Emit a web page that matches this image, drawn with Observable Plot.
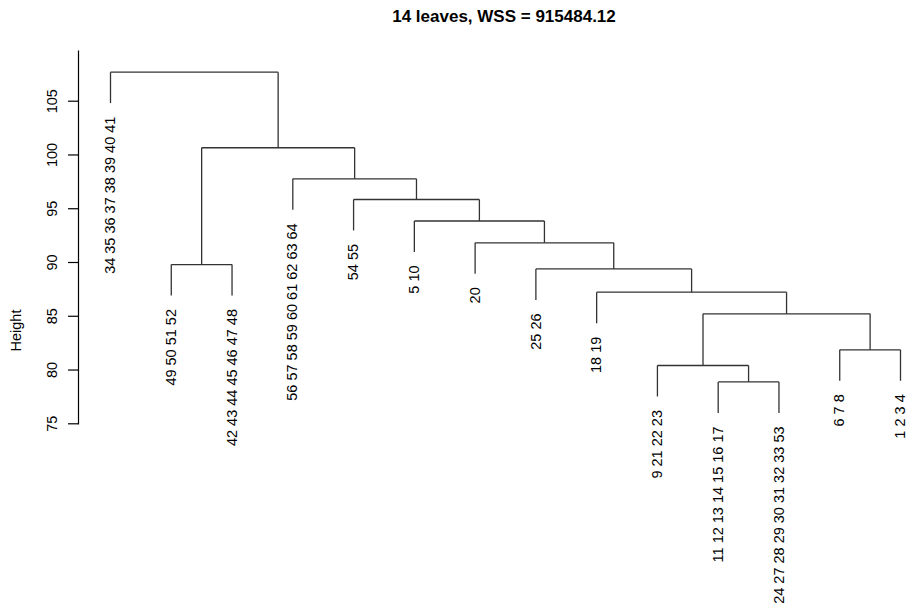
<!DOCTYPE html>
<html><head><meta charset="utf-8">
<script src="https://cdn.jsdelivr.net/npm/d3@7"></script>
<script src="https://cdn.jsdelivr.net/npm/@observablehq/plot@0.6"></script>
<style>
body{margin:0;background:#fff;font-family:"Liberation Sans",Arial,sans-serif;}
#wrap{width:908px;height:609px;position:relative;overflow:hidden;background:#fff}
#title{height:34px;position:relative}
#title span{position:absolute;left:504px;top:0;transform:translateX(-50%);line-height:34px;font-weight:bold;font-size:17px;white-space:nowrap;color:#000}
</style></head><body>
<div id="wrap"><div id="title"><span>14 leaves, WSS = 915484.12</span></div><div id="chart"></div></div>
<script>
// leaf labels, left to right
const leafLabels = [
  "34 35 36 37 38 39 40 41", "49 50 51 52", "42 43 44 45 46 47 48",
  "56 57 58 59 60 61 62 63 64", "54 55", "5 10", "20", "25 26", "18 19",
  "9 21 22 23", "11 12 13 14 15 16 17", "24 27 28 29 30 31 32 33 53",
  "6 7 8", "1 2 3 4"
];
// merges (negative = leaf index, positive = earlier merge number)
const mergeLeft   = [-11, -10, -13, 2, -9, -8, -2, -7, -6, -5, -4, 7, -1];
const mergeRight  = [-12, 1, -14, 3, 4, 5, -3, 6, 8, 9, 10, 11, 12];
const mergeHeight = [78.89, 80.42, 81.88, 85.23, 87.24, 89.40, 89.81, 91.83, 93.86, 95.86, 97.78, 100.67, 107.70];
const yTicks = [75, 80, 85, 90, 95, 100, 105];
const yTop = 109.65;
const hang = 2.88;

const nodeX = [];
const xOf = r => r < 0 ? -r : nodeX[r - 1];
mergeHeight.forEach((h, i) => { nodeX[i] = (xOf(mergeLeft[i]) + xOf(mergeRight[i])) / 2; });

const segs = [], leaves = [];
mergeHeight.forEach((h, i) => {
  const l = mergeLeft[i], r = mergeRight[i];
  segs.push({x1: xOf(l), y1: h, x2: xOf(r), y2: h});
  for (const c of [l, r]) {
    const ch = c < 0 ? h - hang : mergeHeight[c - 1];
    segs.push({x1: xOf(c), y1: h, x2: xOf(c), y2: ch});
    if (c < 0) leaves.push({x: -c, y: ch, label: leafLabels[-c - 1]});
  }
});

const chart = Plot.plot({
  width: 908, height: 575,
  marginLeft: 78, marginRight: 8, marginTop: 16.7, marginBottom: 185.7,
  x: {domain: [1, 14], insetLeft: 32, axis: null},
  y: {domain: [75, yTop], axis: null},
  style: {fontFamily: "'Liberation Sans', Arial, sans-serif", fontSize: "14.5px", background: "white", color: "#000"},
  marks: [
    Plot.frame({anchor: "left", stroke: "#000", strokeWidth: 1.2}),
    Plot.axisY({ticks: yTicks, tickSize: 10, tickFormat: () => "", label: null, stroke: "#000", strokeWidth: 1.2}),
    Plot.text(yTicks, {y: d => d, text: d => String(d), frameAnchor: "left", dx: -26, rotate: -90, textAnchor: "middle", fill: "#000"}),
    Plot.text(["Height"], {text: d => d, frameAnchor: "left", dx: -62, dy: 93, rotate: -90, textAnchor: "middle", fill: "#000"}),
    Plot.link(segs, {x1: "x1", y1: "y1", x2: "x2", y2: "y2", stroke: "#333", strokeWidth: 1.3}),
    Plot.text(leaves, {x: "x", y: "y", text: "label", rotate: -90, textAnchor: "end", dy: 13.5, fill: "#000"})
  ]
});
document.getElementById("chart").appendChild(chart);
</script>
</body></html>
